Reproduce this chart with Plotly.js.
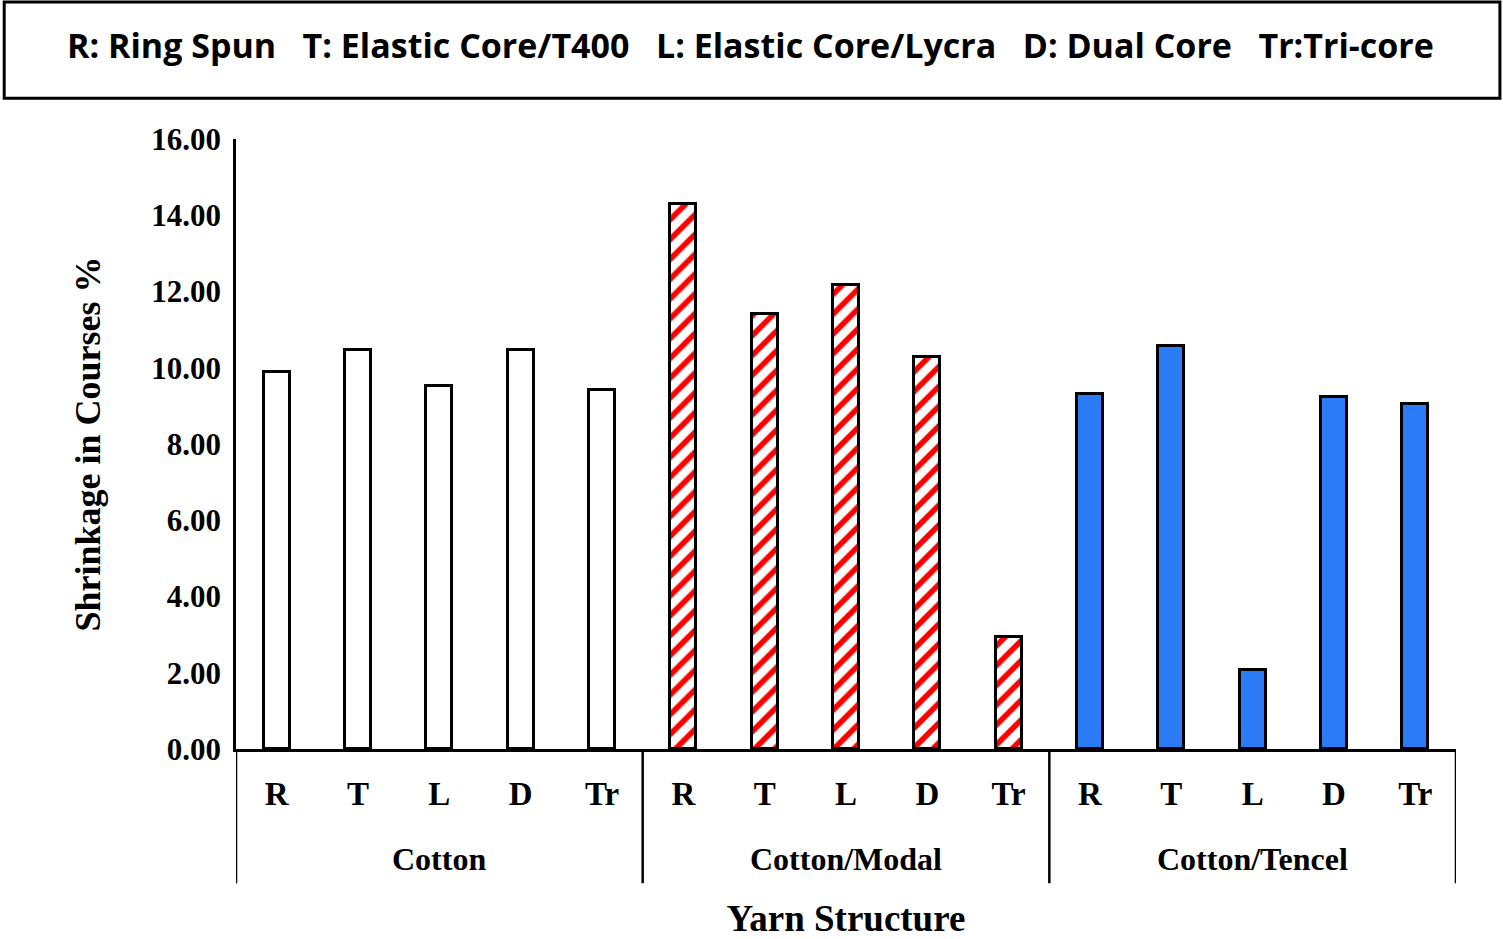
<!DOCTYPE html>
<html>
<head>
<meta charset="utf-8">
<script src="https://cdn.plot.ly/plotly-3.0.1.min.js"></script>
<style>body{margin:0;background:#fff}#plot{width:1503px;height:939px}</style>
</head>
<body>
<div id="plot"></div>
<script>
var structures = ["R", "T", "L", "D", "Tr"];
var groups = ["Cotton", "Cotton/Modal", "Cotton/Tencel"];
var cotton = [9.89, 10.47, 9.52, 10.47, 9.42];
var modal = [14.30, 11.41, 12.17, 10.28, 2.94];
var tencel = [9.31, 10.57, 2.07, 9.23, 9.05];
var legendText = "R: Ring Spun   T: Elastic Core/T400   L: Elastic Core/Lycra   D: Dual Core   Tr:Tri-core";

var serif = "Liberation Serif";
var seriesVals = [cotton, modal, tencel];
var fills = [
  {color: "white"},
  {color: "white", pattern: {shape: "/", fgcolor: "#ff0000", bgcolor: "white", size: 14, solidity: 0.4}},
  {color: "#2a7bf5"}
];

var traces = [];
var tickvals = [], ticktext = [];
seriesVals.forEach(function (vals, g) {
  var xs = vals.map(function (v, i) { return g * 5 + i; });
  xs.forEach(function (x, i) { tickvals.push(x); ticktext.push("<b>" + structures[i] + "</b>"); });
  var m = Object.assign({line: {color: "black", width: 3}}, fills[g]);
  traces.push({type: "bar", x: xs, y: vals, width: 0.32, marker: m, hoverinfo: "y"});
});

var shapes = [];
var annotations = [];
for (var k = 0; k <= 3; k++) {
  shapes.push({type: "line", xref: "x", yref: "paper", x0: k * 5 - 0.5, x1: k * 5 - 0.5,
    y0: 0, y1: -0.22, line: {color: "black", width: 2.5}});
}
groups.forEach(function (g, i) {
  annotations.push({text: "<b>" + g + "</b>", xref: "x", yref: "paper", x: i * 5 + 2, y: -0.183,
    yshift: -18, showarrow: false, font: {family: serif, size: 32, color: "black"}});
});
shapes.push({type: "rect", xref: "paper", yref: "paper", x0: -0.19, x1: 1.036, y0: 1.067, y1: 1.2246,
  line: {color: "black", width: 3}});
annotations.push({text: "<b>" + legendText + "</b>", xref: "paper", yref: "paper", x: 0.422, y: 1.195,
  showarrow: false, font: {family: "Open Sans", size: 34, color: "black"}});

var layout = {
  width: 1503, height: 939,
  margin: {l: 236, r: 47, t: 139, b: 190},
  showlegend: false,
  bargap: 0,
  paper_bgcolor: "white", plot_bgcolor: "white",
  xaxis: {range: [-0.5, 14.5], tickvals: tickvals, ticktext: ticktext, ticks: "",
    ticklabelstandoff: 14,
    showline: true, linecolor: "black", linewidth: 2.5, showgrid: false, zeroline: false,
    tickfont: {family: serif, size: 33, color: "black"},
    title: {text: "<b>Yarn Structure</b>", font: {family: serif, size: 37, color: "black"}, standoff: 95}},
  yaxis: {range: [0, 16], dtick: 2, tickformat: ".2f", showline: true, linecolor: "black", linewidth: 2.5,
    showgrid: false, zeroline: false, ticks: "", ticklabelstandoff: 6,
    tickfont: {family: serif, size: 31, color: "black", weight: "bold"},
    title: {text: "<b>Shrinkage in Courses %</b>", font: {family: serif, size: 36, color: "black"}, standoff: 40}},
  shapes: shapes,
  annotations: annotations
};
Plotly.newPlot("plot", traces, layout, {displayModeBar: false});
</script>
</body>
</html>
